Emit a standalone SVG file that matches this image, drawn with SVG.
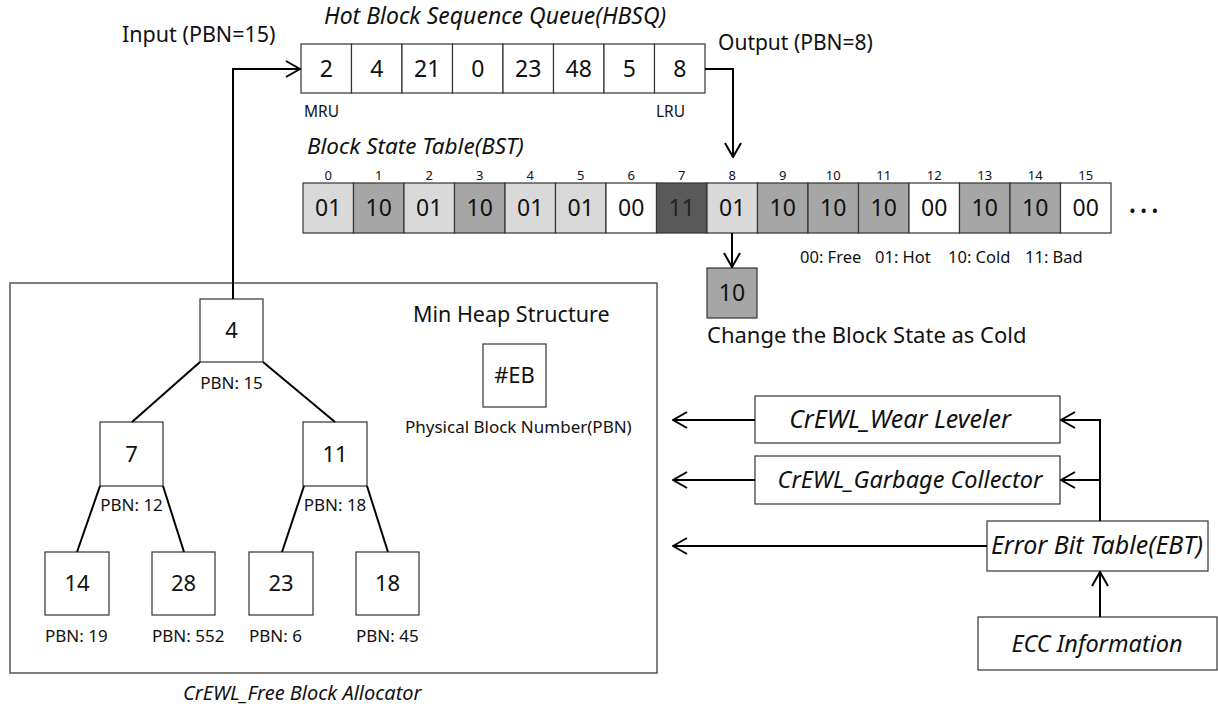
<svg xmlns="http://www.w3.org/2000/svg" width="1218" height="710" viewBox="0 0 1218 710">
<style>
text{font-family:"Noto Sans","Open Sans","DejaVu Sans",sans-serif;fill:#111}
.it{font-style:italic}
.c{text-anchor:middle}
.box{fill:#fff;stroke:#333;stroke-width:1.2}
.conn{stroke:#000;stroke-width:2;fill:none}
.edge{stroke:#000;stroke-width:2}
.w{fill:#fff}.l{fill:#d9d9d9}.m{fill:#a6a6a6}.d{fill:#595959}
.cell{stroke:#333;stroke-width:1.2}
.big{font-size:23px}
.node{font-size:22px}
.idx{font-size:13px}
.pbn{font-size:17px}
</style>
<defs>
<marker id="ah" viewBox="0 0 16 18" refX="15" refY="9" markerWidth="16" markerHeight="18" markerUnits="userSpaceOnUse" orient="auto">
<path d="M1,1 L15,9 L1,17" fill="none" stroke="#000" stroke-width="2"/>
</marker>
</defs>
<rect width="1218" height="710" fill="#fff"/>

<g id="labels">
<text x="122" y="42" font-size="21.5">Input (PBN=15)</text>
<text x="718" y="50" font-size="21">Output (PBN=8)</text>
<text x="324" y="24" font-size="23" class="it">Hot Block Sequence Queue(HBSQ)</text>
<text x="307" y="154" font-size="22.5" class="it">Block State Table(BST)</text>
<text x="183" y="700" font-size="20" class="it">CrEWL_Free Block Allocator</text>
</g>

<g id="hbsq">
<rect class="cell w" x="301" y="44" width="50.5" height="49"/>
<rect class="cell w" x="351.5" y="44" width="50.5" height="49"/>
<rect class="cell w" x="402" y="44" width="50.5" height="49"/>
<rect class="cell w" x="452.5" y="44" width="50.5" height="49"/>
<rect class="cell w" x="503" y="44" width="50.5" height="49"/>
<rect class="cell w" x="553.5" y="44" width="50.5" height="49"/>
<rect class="cell w" x="604" y="44" width="50.5" height="49"/>
<rect class="cell w" x="654.5" y="44" width="50.5" height="49"/>
<text class="c big" x="326.25" y="77">2</text>
<text class="c big" x="376.75" y="77">4</text>
<text class="c big" x="427.25" y="77">21</text>
<text class="c big" x="477.75" y="77">0</text>
<text class="c big" x="528.25" y="77">23</text>
<text class="c big" x="578.75" y="77">48</text>
<text class="c big" x="629.25" y="77">5</text>
<text class="c big" x="679.75" y="77">8</text>
<text x="304" y="117" font-size="15.5">MRU</text>
<text x="656" y="117" font-size="15.5">LRU</text>
</g>

<g id="bst">
<rect class="cell l" x="303" y="183" width="50.5" height="50"/>
<rect class="cell m" x="353.5" y="183" width="50.5" height="50"/>
<rect class="cell l" x="404" y="183" width="50.5" height="50"/>
<rect class="cell m" x="454.5" y="183" width="50.5" height="50"/>
<rect class="cell l" x="505" y="183" width="50.5" height="50"/>
<rect class="cell l" x="555.5" y="183" width="50.5" height="50"/>
<rect class="cell w" x="606" y="183" width="50.5" height="50"/>
<rect class="cell d" x="656.5" y="183" width="50.5" height="50"/>
<rect class="cell l" x="707" y="183" width="50.5" height="50"/>
<rect class="cell m" x="757.5" y="183" width="50.5" height="50"/>
<rect class="cell m" x="808" y="183" width="50.5" height="50"/>
<rect class="cell m" x="858.5" y="183" width="50.5" height="50"/>
<rect class="cell w" x="909" y="183" width="50.5" height="50"/>
<rect class="cell m" x="959.5" y="183" width="50.5" height="50"/>
<rect class="cell m" x="1010" y="183" width="50.5" height="50"/>
<rect class="cell w" x="1060.5" y="183" width="50.5" height="50"/>
<g class="big">
<text class="c" x="328.25" y="216">01</text>
<text class="c" x="378.75" y="216">10</text>
<text class="c" x="429.25" y="216">01</text>
<text class="c" x="479.75" y="216">10</text>
<text class="c" x="530.25" y="216">01</text>
<text class="c" x="580.75" y="216">01</text>
<text class="c" x="631.25" y="216">00</text>
<text class="c" x="681.75" y="216" style="fill:#222">11</text>
<text class="c" x="732.25" y="216">01</text>
<text class="c" x="782.75" y="216">10</text>
<text class="c" x="833.25" y="216">10</text>
<text class="c" x="883.75" y="216">10</text>
<text class="c" x="934.25" y="216">00</text>
<text class="c" x="984.75" y="216">10</text>
<text class="c" x="1035.25" y="216">10</text>
<text class="c" x="1085.75" y="216">00</text>
</g>
<g class="idx">
<text class="c" x="328.25" y="180">0</text>
<text class="c" x="378.75" y="180">1</text>
<text class="c" x="429.25" y="180">2</text>
<text class="c" x="479.75" y="180">3</text>
<text class="c" x="530.25" y="180">4</text>
<text class="c" x="580.75" y="180">5</text>
<text class="c" x="631.25" y="180">6</text>
<text class="c" x="681.75" y="180">7</text>
<text class="c" x="732.25" y="180">8</text>
<text class="c" x="782.75" y="180">9</text>
<text class="c" x="833.25" y="180">10</text>
<text class="c" x="883.75" y="180">11</text>
<text class="c" x="934.25" y="180">12</text>
<text class="c" x="984.75" y="180">13</text>
<text class="c" x="1035.25" y="180">14</text>
<text class="c" x="1085.75" y="180">15</text>
</g>
<text x="1129" y="217" font-size="18" letter-spacing="4.5">•••</text>
<text y="263" font-size="16.5"><tspan x="800">00: Free</tspan><tspan x="875">01: Hot</tspan><tspan x="948">10: Cold</tspan><tspan x="1025">11: Bad</tspan></text>
</g>

<g id="cold-state">
<rect class="cell m" x="707" y="268" width="50" height="50"/>
<text class="c big" x="732" y="301">10</text>
<text x="707" y="343" font-size="22">Change the Block State as Cold</text>
</g>

<g id="heap">
<rect x="10" y="283" width="647" height="390" fill="none" stroke="#555" stroke-width="1.5"/>
<text x="413" y="322" font-size="21.5">Min Heap Structure</text>
</g>

<g id="legend-eb">
<rect class="box" x="483" y="344" width="63" height="63"/>
<text class="c node" x="514.5" y="383">#EB</text>
<text x="405" y="433" font-size="17">Physical Block Number(PBN)</text>
</g>

<g id="n4">
<rect class="box" x="200" y="299" width="63" height="63"/>
<text class="c node" x="231.5" y="338">4</text>
<text class="c pbn" x="231.5" y="389">PBN: 15</text>
</g>
<g id="n7">
<rect class="box" x="100" y="422" width="63" height="64"/>
<text class="c node" x="131.5" y="462">7</text>
<text class="c pbn" x="131.5" y="511">PBN: 12</text>
</g>
<g id="n11">
<rect class="box" x="303" y="422" width="64" height="64"/>
<text class="c node" x="335" y="462">11</text>
<text class="c pbn" x="335" y="511">PBN: 18</text>
</g>
<g id="n14">
<rect class="box" x="45" y="552" width="64" height="63"/>
<text class="c node" x="77" y="591">14</text>
<text x="45" y="642" class="pbn">PBN: 19</text>
</g>
<g id="n28">
<rect class="box" x="152" y="552" width="63" height="63"/>
<text class="c node" x="183.5" y="591">28</text>
<text x="152" y="642" class="pbn">PBN: 552</text>
</g>
<g id="n23">
<rect class="box" x="249" y="552" width="64" height="63"/>
<text class="c node" x="281" y="591">23</text>
<text x="249" y="642" class="pbn">PBN: 6</text>
</g>
<g id="n18">
<rect class="box" x="356" y="552" width="63" height="63"/>
<text class="c node" x="387.5" y="591">18</text>
<text x="356" y="642" class="pbn">PBN: 45</text>
</g>

<g id="wear-leveler">
<rect class="box" x="755" y="396" width="305" height="47"/>
<text class="c it" x="900" y="428" font-size="25">CrEWL_Wear Leveler</text>
</g>
<g id="garbage-collector">
<rect class="box" x="755" y="456" width="305" height="48"/>
<text class="c it" x="910" y="488" font-size="23.5">CrEWL_Garbage Collector</text>
</g>
<g id="ebt">
<rect class="box" x="987" y="521" width="221" height="50"/>
<text class="c it" x="1097" y="554" font-size="25">Error Bit Table(EBT)</text>
</g>
<g id="ecc">
<rect class="box" x="978" y="617" width="239" height="53"/>
<text class="c it" x="1097" y="652" font-size="23.5">ECC Information</text>
</g>

<g id="connectors">
<path class="conn" d="M233,299 V69 H300" marker-end="url(#ah)"/>
<path class="conn" d="M705,69 H733 V157" marker-end="url(#ah)"/>
<path class="conn" d="M732,233 V267" marker-end="url(#ah)"/>
<line class="edge" x1="200" y1="362" x2="132" y2="422"/>
<line class="edge" x1="263" y1="362" x2="335" y2="422"/>
<line class="edge" x1="100" y1="486" x2="77" y2="552"/>
<line class="edge" x1="163" y1="486" x2="184" y2="552"/>
<line class="edge" x1="304" y1="486" x2="282" y2="552"/>
<line class="edge" x1="367" y1="486" x2="388" y2="552"/>
<path class="conn" d="M755,420 H673" marker-end="url(#ah)"/>
<path class="conn" d="M755,480 H673" marker-end="url(#ah)"/>
<path class="conn" d="M987,546 H673" marker-end="url(#ah)"/>
<path class="conn" d="M1100,521 V420 H1061" marker-end="url(#ah)"/>
<path class="conn" d="M1100,480 H1061" marker-end="url(#ah)"/>
<path class="conn" d="M1100,617 V572" marker-end="url(#ah)"/>
</g>
</svg>
